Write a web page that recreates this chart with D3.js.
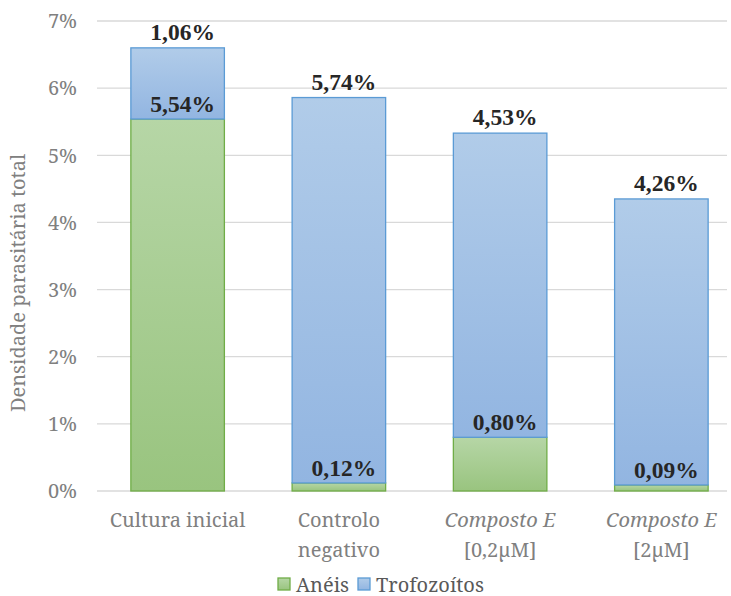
<!DOCTYPE html>
<html>
<head>
<meta charset="utf-8">
<script src="https://cdn.jsdelivr.net/npm/d3@7"></script>
<style>
  html, body { margin: 0; padding: 0; background: #fff; }
  svg { display: block; }
</style>
</head>
<body>
<svg id="chart" width="731" height="596"></svg>
<script>
// Categories (line breaks and italic flag per label)
const categories = ["Cultura inicial", "Controlo negativo", "Composto E [0,2µM]", "Composto E [2µM]"];
const categoryLines = [["Cultura inicial"], ["Controlo", "negativo"], ["Composto E", "[0,2µM]"], ["Composto E", "[2µM]"]];
const categoryItalicFirst = [false, false, true, true];

// Series values (%)
const aneis = [5.54, 0.12, 0.80, 0.09];
const trofozoitos = [1.06, 5.74, 4.53, 4.26];

const seriesNames = ["Anéis", "Trofozoítos"];
const yTicks = [0, 1, 2, 3, 4, 5, 6, 7];

const FONT = '"Noto Serif"';          // regular text
const FONT_BOLD = '"Liberation Serif"'; // bold value labels
const BASE = 20;
const fmt = v => v.toFixed(2).replace(".", ",") + "%";

const svg = d3.select("#chart");
const defs = svg.append("defs");

function gradient(id, top, bottom) {
  const g = defs.append("linearGradient").attr("id", id)
    .attr("x1", 0).attr("y1", 0).attr("x2", 0).attr("y2", 1);
  g.append("stop").attr("offset", "0%").attr("stop-color", top);
  g.append("stop").attr("offset", "100%").attr("stop-color", bottom);
}
gradient("gGreen", "#b6d6a6", "#99c47f");
gradient("gBlue", "#b1cce9", "#92b5e1");

const x = d3.scaleBand().domain(categories).range([97, 742]).paddingInner(0.42).paddingOuter(0.21);
const y = d3.scaleLinear().domain([0, 7]).range([491, 21]);

// Regular serif text placed at (px, py)
function plainText(parent, px, py, str, opts = {}) {
  return parent.append("text")
    .attr("transform", `translate(${px},${py})${opts.rotate ? " rotate(-90)" : ""}`)
    .attr("text-anchor", opts.anchor || "middle")
    .attr("fill", opts.fill || "#808080")
    .attr("font-size", BASE)
    .style("font-family", FONT)
    .style("font-style", opts.italic ? "italic" : "normal")
    .text(str);
}

// Gridlines
svg.append("g").selectAll("line").data(yTicks).join("line")
  .attr("x1", 97).attr("x2", 727)
  .attr("y1", d => y(d)).attr("y2", d => y(d))
  .attr("stroke", "#d9d9d9").attr("stroke-width", 1.3);

// Y axis labels via d3 axis
const yAxis = d3.axisLeft(y).tickValues(yTicks).tickFormat(d => d + "%").tickSize(0).tickPadding(0);
const yg = svg.append("g").attr("transform", "translate(77,0)").call(yAxis);
yg.select(".domain").remove();
yg.attr("font-family", null).attr("font-size", null);
yg.selectAll("text")
  .attr("x", 0).attr("dy", "0.34em")
  .attr("fill", "#808080")
  .attr("font-size", BASE)
  .style("font-family", FONT);

// Y axis title
plainText(svg, 25, 283, "Densidade parasitária total", { rotate: true });

// Bars
const bw = x.bandwidth();
const bars = svg.append("g");
categories.forEach((c, i) => {
  const x0 = x(c);
  const a = aneis[i], t = trofozoitos[i];
  bars.append("rect")
    .attr("x", x0).attr("width", bw)
    .attr("y", y(a)).attr("height", y(0) - y(a))
    .attr("fill", "url(#gGreen)").attr("stroke", "#70ad47").attr("stroke-width", 1.3);
  bars.append("rect")
    .attr("x", x0).attr("width", bw)
    .attr("y", y(a + t)).attr("height", y(a) - y(a + t))
    .attr("fill", "url(#gBlue)").attr("stroke", "#5b9bd5").attr("stroke-width", 1.3);
});

// Data labels (bold)
const labels = svg.append("g");
function dataLabel(cx, yy, v) {
  labels.append("text").attr("x", cx).attr("y", yy)
    .attr("text-anchor", "middle").attr("fill", "#262626")
    .attr("font-size", 23.5)
    .style("font-family", FONT_BOLD).style("font-weight", "bold")
    .text(fmt(v));
}
categories.forEach((c, i) => {
  const cx = x(c) + bw / 2 + 5;
  const a = aneis[i], t = trofozoitos[i];
  dataLabel(cx, y(a) - 7, a);
  dataLabel(cx, y(a + t) - 8, t);
});

// Category labels
const cat = svg.append("g");
categories.forEach((c, i) => {
  const cx = x(c) + bw / 2;
  categoryLines[i].forEach((line, j) => {
    plainText(cat, cx, 527 + j * 30, line, { italic: j === 0 && categoryItalicFirst[i] });
  });
});

// Legend
const legend = svg.append("g");
const legendItems = [
  { name: seriesNames[0], fill: "url(#gGreen)", stroke: "#70ad47", x: 278 },
  { name: seriesNames[1], fill: "url(#gBlue)", stroke: "#5b9bd5", x: 358 }
];
legendItems.forEach(d => {
  legend.append("rect").attr("x", d.x).attr("y", 578).attr("width", 12).attr("height", 12)
    .attr("fill", d.fill).attr("stroke", d.stroke).attr("stroke-width", 1.3);
  plainText(legend, d.x + 18, 592, d.name, { anchor: "start", fill: "#595959" });
});
</script>
</body>
</html>
